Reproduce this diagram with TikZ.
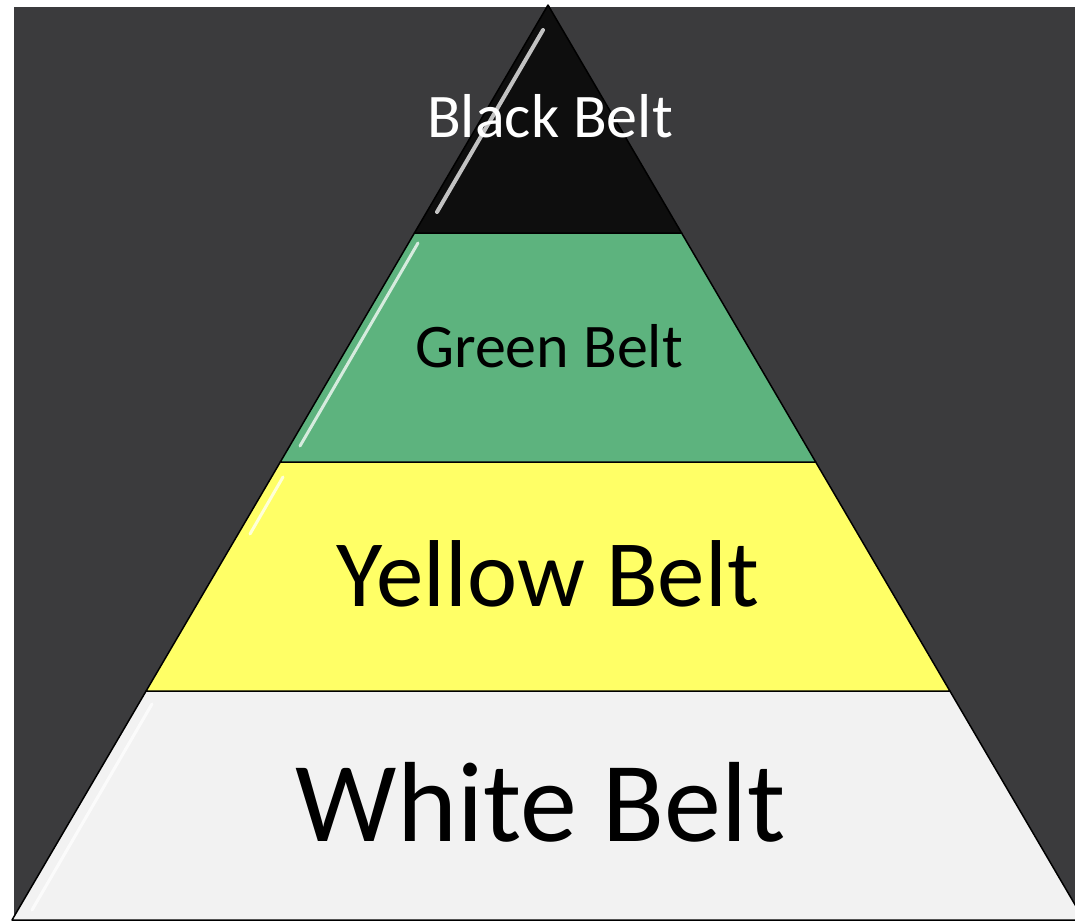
\documentclass[tikz,border=0pt]{standalone}
\usepackage{fontspec}
\setmainfont{Carlito}
\definecolor{bgdark}{HTML}{3B3B3D}
\definecolor{beltblack}{HTML}{0E0E0E}
\definecolor{beltgreen}{HTML}{5DB37E}
\definecolor{beltyellow}{HTML}{FFFF66}
\definecolor{beltwhite}{HTML}{F2F2F2}
\tikzset{
  band/.style={draw=black, line width=1.5pt, line join=round},
  gloss/.style={draw=white, line width=3pt, line cap=round, opacity=0.75},
  label/.style={anchor=base, inner sep=0pt},
}
\begin{document}
\begin{tikzpicture}[x=1pt,y=-1pt]
\useasboundingbox (0,0) rectangle (1075,922);
\fill[white] (0,0) rectangle (1075,922);
\fill[bgdark] (14,7) rectangle (1075,920);
% pyramid corners
\coordinate (apex) at (548,5);
\coordinate (l1) at (414.4,233); \coordinate (r1) at (681.6,233);
\coordinate (l2) at (280.3,462); \coordinate (r2) at (815.7,462);
\coordinate (l3) at (146.1,691); \coordinate (r3) at (949.9,691);
\coordinate (l4) at (12,920);    \coordinate (r4) at (1084,920);
\begin{scope}
\clip (0,0) rectangle (1075,922);
\filldraw[band, fill=beltwhite] (l3) -- (r3) -- (r4) -- (l4) -- cycle;
\filldraw[band, fill=beltyellow] (l2) -- (r2) -- (r3) -- (l3) -- cycle;
\filldraw[band, fill=beltgreen] (l1) -- (r1) -- (r2) -- (l2) -- cycle;
\filldraw[band, fill=beltblack] (apex) -- (r1) -- (l1) -- cycle;
\end{scope}
% gloss highlights along the left edges
\draw[gloss, line width=4pt] (543,30) -- (437,212);
\draw[gloss] (418,243) -- (300,446);
\draw[gloss] (283,477) -- (250,534);
\draw[gloss] (152,704) -- (32,910);
% labels
\node[label, text=white] (black) at (550,137) {\fontsize{62}{62}\selectfont Black Belt};
\node[label, text=black] (green) at (549,367) {\fontsize{62}{62}\selectfont Green Belt};
\node[label, text=black] (yellow) at (548,606) {\fontsize{95}{95}\selectfont Yellow Belt};
\node[label, text=black] (white) at (541,841) {\fontsize{114}{114}\selectfont White Belt};
\end{tikzpicture}
\end{document}
